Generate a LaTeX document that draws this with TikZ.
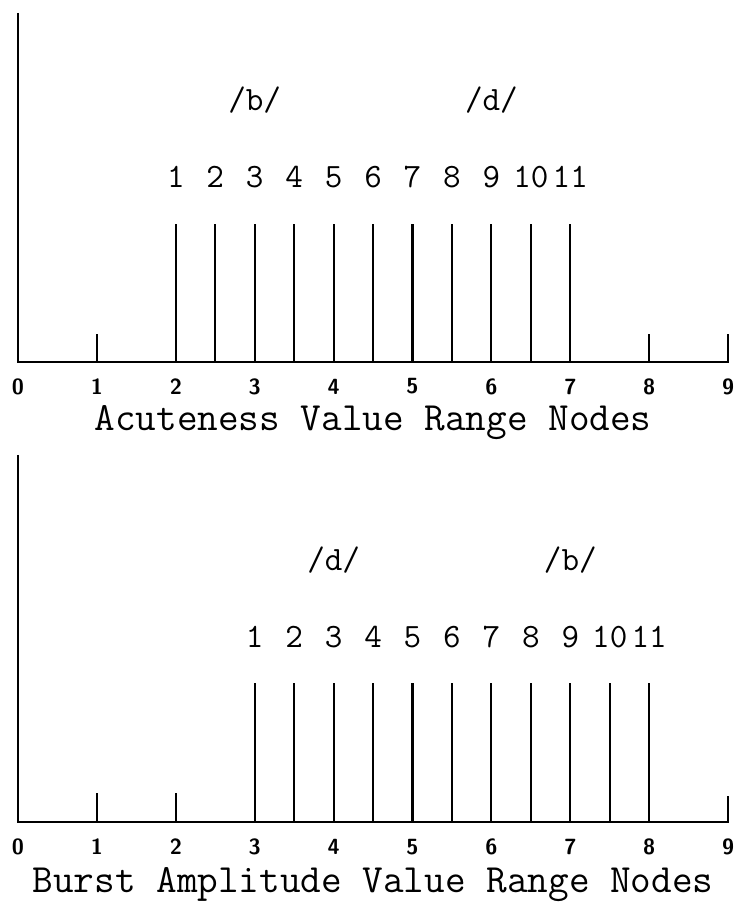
\documentclass[tikz,border=0pt]{standalone}
\usepackage{tikz}
\usetikzlibrary{positioning}

\begin{document}
\begin{tikzpicture}[x=1.578cm,y=1cm,
    axis/.style={line width=1.5pt},
    bar/.style={line width=1.2pt},
    tick/.style={line width=1.2pt},
    ticklabel/.style={font=\fontsize{12.5}{14}\selectfont\sffamily\bfseries,inner sep=0pt},
    nodenum/.style={font=\fontsize{19.4}{21}\selectfont\ttfamily,inner sep=0pt},
    phoneme/.style={font=\fontsize{19.4}{21}\selectfont\ttfamily,inner sep=0pt},
    caption/.style={font=\fontsize{22.8}{25}\selectfont\ttfamily,inner sep=0pt}
]
\useasboundingbox (-0.228,0) rectangle (9.087,18.08);

% upper panel: acuteness
\begin{scope}[yshift=10.84cm]
\draw[axis] (0,6.98) -- (0,0) -- (9,0) -- (9,0.56);
\foreach \t in {1,8} \draw[tick] (\t,0) -- (\t,0.56);
\foreach \x [count=\i] in {2,2.5,...,7} {
  \draw[bar] (\x,0) -- (\x,2.76);
  \node[nodenum,anchor=base] (acu\i) at (\x,3.49) {\i};
}
\foreach \t in {0,...,9} \node[ticklabel] (acu-t\t) at (\t,-0.49) {\t};
\node[phoneme] (acu-b) at (3,5.24) {/b/};
\node[phoneme] (acu-d) at (6,5.24) {/d/};
\node[caption,anchor=base] (acu-title) at (4.5,-1.37) {Acuteness Value Range Nodes};
\end{scope}

% lower panel: burst amplitude
\begin{scope}[yshift=1.64cm]
\draw[axis] (0,7.34) -- (0,0) -- (9,0) -- (9,0.52);
\foreach \t in {1,2} \draw[tick] (\t,0) -- (\t,0.58);
\foreach \x [count=\i] in {3,3.5,...,8} {
  \draw[bar] (\x,0) -- (\x,2.78);
  \node[nodenum,anchor=base] (bur\i) at (\x,3.49) {\i};
}
\foreach \t in {0,...,9} \node[ticklabel] (bur-t\t) at (\t,-0.50) {\t};
\node[phoneme] (bur-d) at (4,5.24) {/d/};
\node[phoneme] (bur-b) at (7,5.24) {/b/};
\node[caption,anchor=base] (bur-title) at (4.5,-1.40) {Burst Amplitude Value Range Nodes};
\end{scope}
\end{tikzpicture}
\end{document}
